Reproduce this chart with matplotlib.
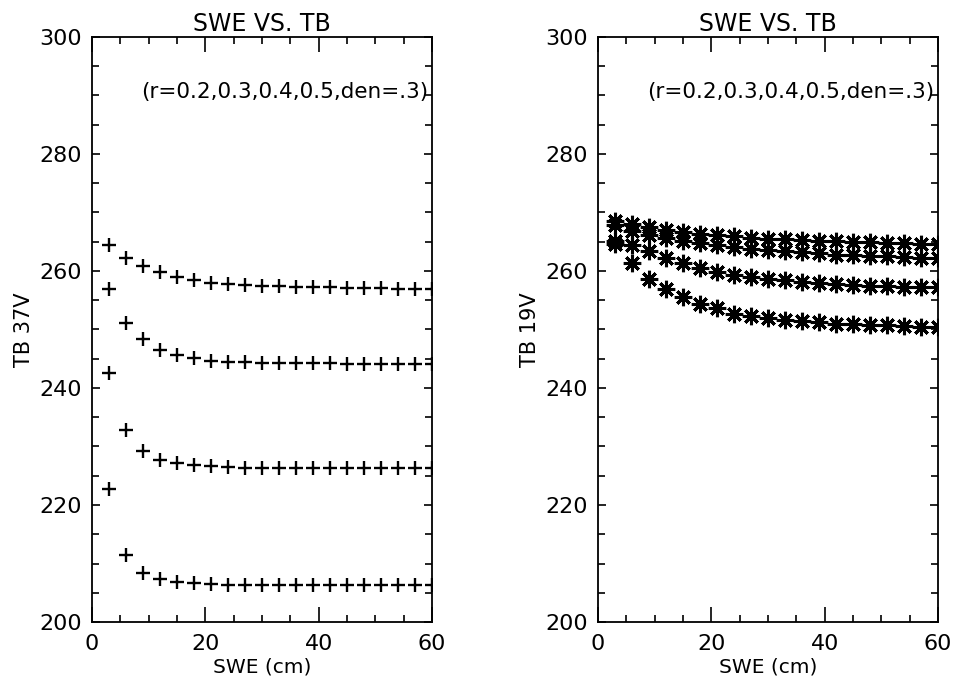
import numpy as np
import matplotlib.pyplot as plt
from matplotlib.ticker import MultipleLocator

# SWE (cm) sample points
swe = [3, 6, 9, 12, 15, 18, 21, 24, 27, 30, 33, 36, 39, 42, 45, 48, 51, 54, 57, 60]

# TB 37V, one series per radius (r = 0.2 .. 0.5)
tb37_a = [264.4, 262.2, 260.9, 259.8, 258.9, 258.4, 258.0, 257.8, 257.6, 257.5,
          257.4, 257.3, 257.2, 257.2, 257.1, 257.1, 257.1, 257.0, 257.0, 257.0]
tb37_b = [256.9, 251.1, 248.3, 246.5, 245.6, 245.1, 244.7, 244.5, 244.4, 244.3,
          244.2, 244.2, 244.2, 244.2, 244.1, 244.1, 244.1, 244.1, 244.1, 244.1]
tb37_c = [242.5, 232.9, 229.3, 227.7, 227.1, 226.8, 226.6, 226.5, 226.4, 226.4,
          226.3, 226.3, 226.3, 226.3, 226.3, 226.3, 226.3, 226.3, 226.3, 226.3]
tb37_d = [222.7, 211.5, 208.3, 207.3, 206.8, 206.6, 206.5, 206.4, 206.3, 206.3,
          206.3, 206.3, 206.3, 206.3, 206.3, 206.3, 206.3, 206.3, 206.3, 206.3]

# TB 19V
tb19_a = [268.6, 268.1, 267.5, 267.0, 266.6, 266.3, 266.1, 265.9, 265.7, 265.5,
          265.4, 265.3, 265.2, 265.1, 265.0, 264.9, 264.8, 264.8, 264.7, 264.7]
tb19_b = [267.8, 266.9, 266.2, 265.6, 265.1, 264.8, 264.4, 264.1, 263.8, 263.6,
          263.4, 263.2, 263.0, 262.8, 262.7, 262.6, 262.5, 262.4, 262.3, 262.2]
tb19_c = [265.2, 264.5, 263.4, 262.3, 261.3, 260.5, 259.8, 259.4, 259.0, 258.7,
          258.4, 258.2, 258.0, 257.8, 257.6, 257.5, 257.4, 257.3, 257.2, 257.2]
tb19_d = [264.6, 261.3, 258.7, 256.9, 255.5, 254.4, 253.6, 252.7, 252.3, 252.0,
          251.7, 251.4, 251.2, 251.0, 250.9, 250.8, 250.7, 250.6, 250.5, 250.4]

note = "(r=0.2,0.3,0.4,0.5,den=.3)"

fig = plt.figure(figsize=(9.56, 6.85), dpi=100)
ax1 = fig.add_axes([92/956, 63/685, 340/956, 585/685])
ax2 = fig.add_axes([598/956, 63/685, 340/956, 585/685])


def style(ax, ylab):
    ax.set_xlim(0, 60)
    ax.set_ylim(200, 300)
    ax.xaxis.set_major_locator(MultipleLocator(20))
    ax.xaxis.set_minor_locator(MultipleLocator(5))
    ax.yaxis.set_major_locator(MultipleLocator(20))
    ax.yaxis.set_minor_locator(MultipleLocator(5))
    ax.tick_params(which='both', direction='in', top=True, right=True,
                   labelsize=16, width=1.2, pad=7)
    ax.tick_params(axis='x', which='major', length=11, pad=9)
    ax.tick_params(axis='x', which='minor', length=5)
    ax.tick_params(axis='y', which='major', length=6)
    ax.tick_params(axis='y', which='minor', length=5)
    for s in ax.spines.values():
        s.set_linewidth(1.3)
    ax.set_title("SWE VS. TB", fontsize=17, pad=4)
    ax.set_xlabel("SWE (cm)", fontsize=14.5, labelpad=2)
    ax.set_ylabel(ylab, fontsize=15, labelpad=4)
    ax.text(59.3, 290.6, note, ha='right', va='center', fontsize=15.5)


for s in [tb37_a, tb37_b, tb37_c, tb37_d]:
    ax1.plot(swe, s, linestyle='none', marker='+', markersize=10.5,
             markeredgewidth=1.7, color='black')

for s in [tb19_a, tb19_b, tb19_c, tb19_d]:
    ax2.plot(swe, s, linestyle='none', marker=(8, 2, 0), markersize=12.5,
             markeredgewidth=2.2, color='black')

style(ax1, "TB 37V")
style(ax2, "TB 19V")

fig.savefig("out.png", dpi=100)
